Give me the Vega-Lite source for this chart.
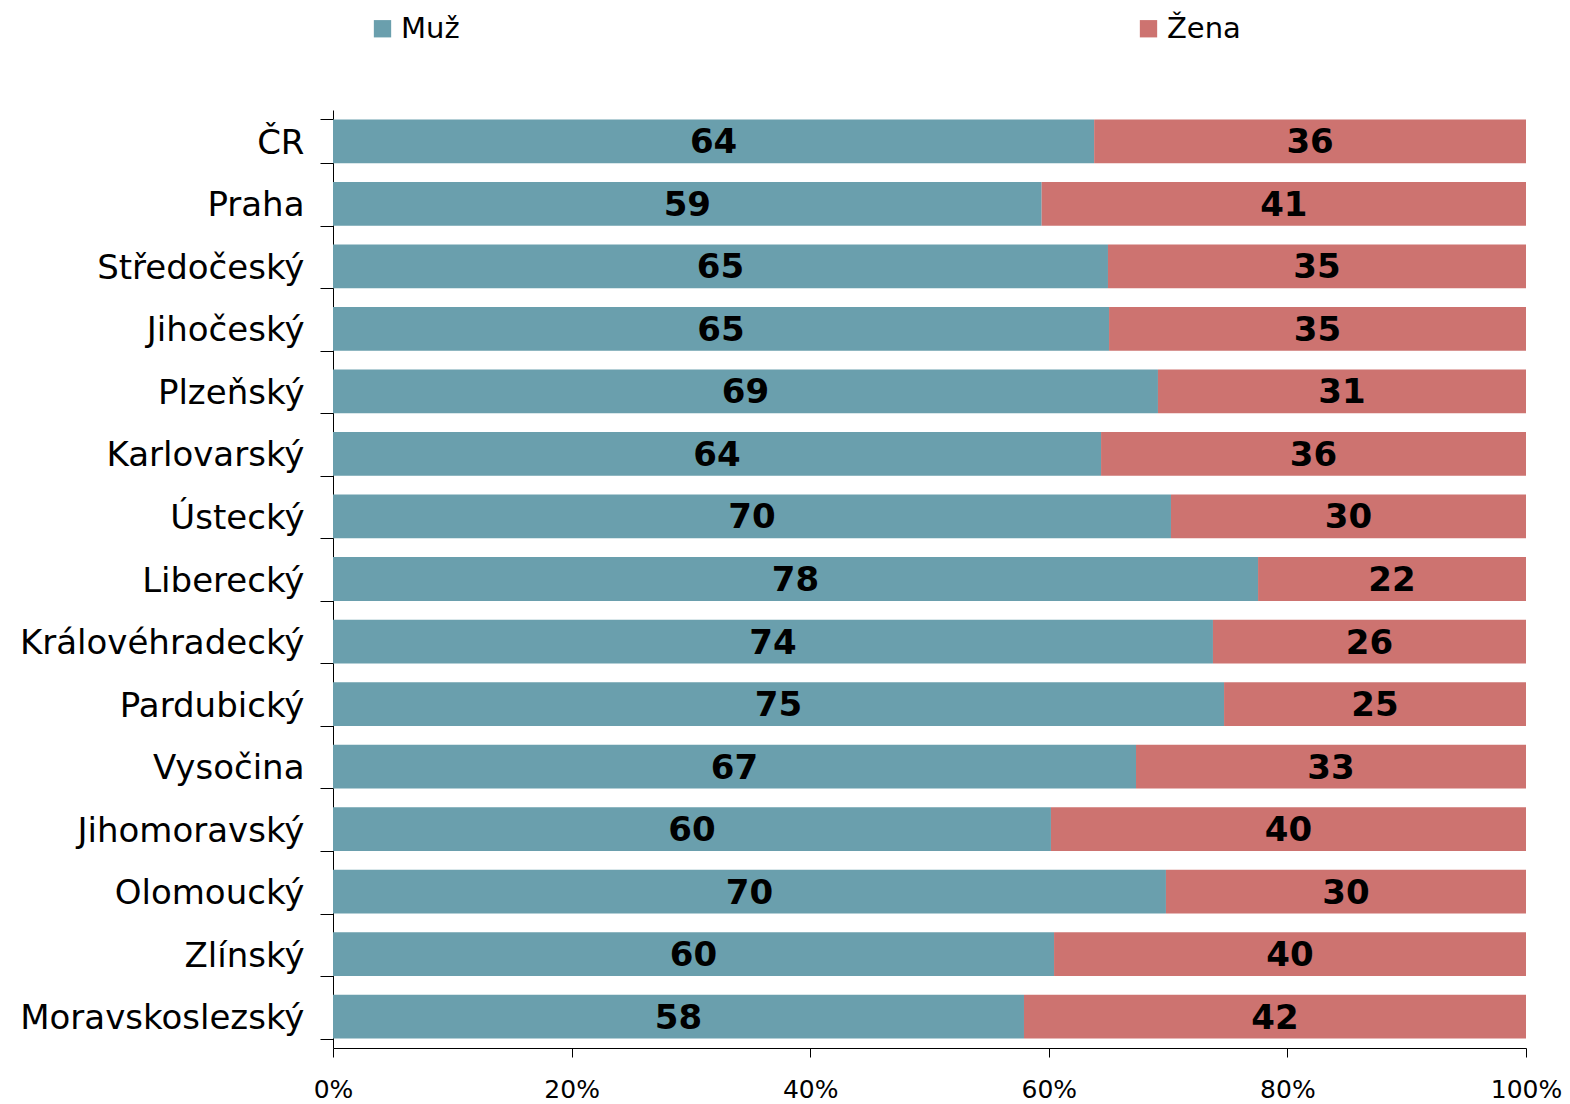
{
  "$schema": "https://vega.github.io/schema/vega-lite/v6.json",
  "autosize": {"type": "none"},
  "padding": {"left": 333, "top": 110, "right": 44, "bottom": 56},
  "width": 1193,
  "height": 938,
  "background": "white",
  "config": {
    "font": "DejaVu Sans",
    "view": {"stroke": null}
  },
  "data": {
    "values": [
      {"kraj": "ČR", "pohlavi": "Muž", "podil": 63.8},
      {"kraj": "ČR", "pohlavi": "Žena", "podil": 36.2},
      {"kraj": "Praha", "pohlavi": "Muž", "podil": 59.4},
      {"kraj": "Praha", "pohlavi": "Žena", "podil": 40.6},
      {"kraj": "Středočeský", "pohlavi": "Muž", "podil": 64.96},
      {"kraj": "Středočeský", "pohlavi": "Žena", "podil": 35.04},
      {"kraj": "Jihočeský", "pohlavi": "Muž", "podil": 65.05},
      {"kraj": "Jihočeský", "pohlavi": "Žena", "podil": 34.95},
      {"kraj": "Plzeňský", "pohlavi": "Muž", "podil": 69.15},
      {"kraj": "Plzeňský", "pohlavi": "Žena", "podil": 30.85},
      {"kraj": "Karlovarský", "pohlavi": "Muž", "podil": 64.38},
      {"kraj": "Karlovarský", "pohlavi": "Žena", "podil": 35.62},
      {"kraj": "Ústecký", "pohlavi": "Muž", "podil": 70.24},
      {"kraj": "Ústecký", "pohlavi": "Žena", "podil": 29.76},
      {"kraj": "Liberecký", "pohlavi": "Muž", "podil": 77.54},
      {"kraj": "Liberecký", "pohlavi": "Žena", "podil": 22.46},
      {"kraj": "Královéhradecký", "pohlavi": "Muž", "podil": 73.76},
      {"kraj": "Královéhradecký", "pohlavi": "Žena", "podil": 26.24},
      {"kraj": "Pardubický", "pohlavi": "Muž", "podil": 74.69},
      {"kraj": "Pardubický", "pohlavi": "Žena", "podil": 25.31},
      {"kraj": "Vysočina", "pohlavi": "Muž", "podil": 67.31},
      {"kraj": "Vysočina", "pohlavi": "Žena", "podil": 32.69},
      {"kraj": "Jihomoravský", "pohlavi": "Muž", "podil": 60.18},
      {"kraj": "Jihomoravský", "pohlavi": "Žena", "podil": 39.82},
      {"kraj": "Olomoucký", "pohlavi": "Muž", "podil": 69.82},
      {"kraj": "Olomoucký", "pohlavi": "Žena", "podil": 30.18},
      {"kraj": "Zlínský", "pohlavi": "Muž", "podil": 60.44},
      {"kraj": "Zlínský", "pohlavi": "Žena", "podil": 39.56},
      {"kraj": "Moravskoslezský", "pohlavi": "Muž", "podil": 57.92},
      {"kraj": "Moravskoslezský", "pohlavi": "Žena", "podil": 42.08}
    ]
  },
  "transform": [
    {"calculate": "datum.pohlavi === 'Muž' ? 0 : 1", "as": "poradi"},
    {"stack": "podil", "groupby": ["kraj"], "sort": [{"field": "poradi", "order": "ascending"}], "as": ["x0", "x1"]},
    {"calculate": "(datum.x0 + datum.x1) / 2", "as": "xmid"}
  ],
  "encoding": {
    "y": {
      "field": "kraj",
      "type": "nominal",
      "sort": null,
      "scale": {"paddingInner": 0.3, "paddingOuter": 0.15},
      "axis": {
        "title": null,
        "labelFontSize": 34,
        "labelColor": "black",
        "labelPadding": 16,
        "labelLimit": 0,
        "labelOffset": 2,
        "tickSize": 13,
        "tickBand": "extent",
        "tickColor": "black",
        "domainColor": "black",
        "tickWidth": 1,
        "domainWidth": 1
      }
    }
  },
  "layer": [
    {
      "mark": {"type": "bar"},
      "encoding": {
        "x": {
          "field": "x0",
          "type": "quantitative",
          "scale": {"domain": [0, 100], "nice": false},
          "axis": {
            "title": null,
            "values": [0, 20, 40, 60, 80, 100],
            "labelExpr": "datum.value + '%'",
            "labelFontSize": 25,
            "labelColor": "black",
            "labelPadding": 20,
            "tickSize": 9,
            "tickColor": "black",
            "domainColor": "black",
            "grid": false,
            "labelFlush": false
          }
        },
        "x2": {"field": "x1"},
        "color": {
          "field": "pohlavi",
          "type": "nominal",
          "scale": {"domain": ["Muž", "Žena"], "range": ["#6A9FAD", "#CD7370"]},
          "legend": {
            "title": null,
            "orient": "none",
            "direction": "horizontal",
            "legendX": 35,
            "legendY": -96,
            "symbolType": "square",
            "symbolSize": 300,
            "symbolStrokeWidth": 0,
            "labelFontSize": 29,
            "labelColor": "black",
            "labelOffset": 4,
            "columnPadding": 674
          }
        }
      }
    },
    {
      "mark": {"type": "text", "fontSize": 34, "fontWeight": "bold", "color": "black", "baseline": "middle", "align": "center", "dy": 2},
      "encoding": {
        "x": {"field": "xmid", "type": "quantitative"},
        "text": {"field": "podil", "type": "quantitative", "format": ".0f"}
      }
    }
  ]
}
